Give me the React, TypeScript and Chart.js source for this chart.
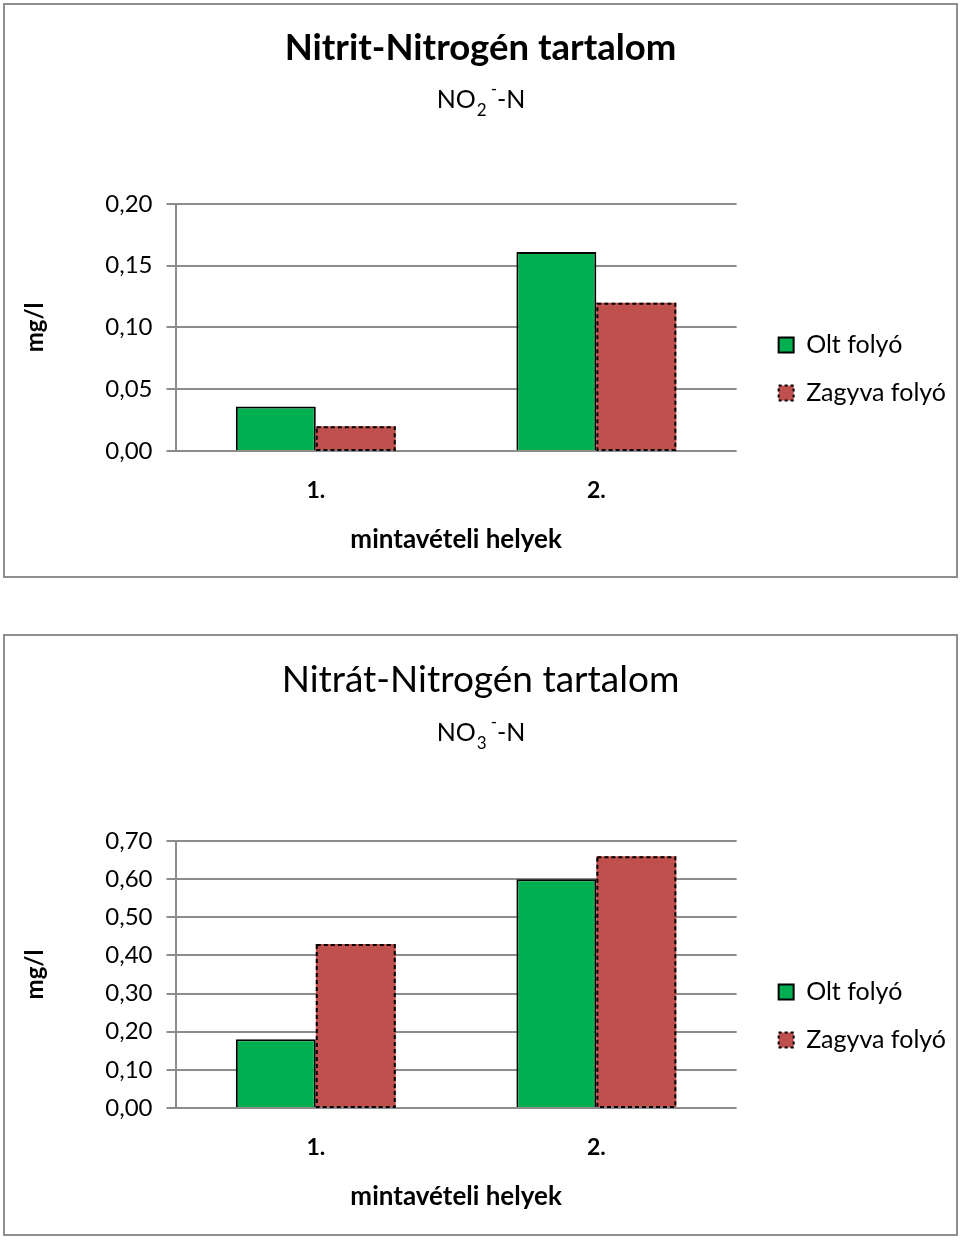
import React, { useEffect, useRef } from 'react';
import { Chart, registerables } from 'chart.js';

Chart.register(...registerables);

// ---------- data ----------
const categories = ['1.', '2.'];
const seriesNames = ['Olt folyó', 'Zagyva folyó'];

const nitritOlt = [0.036, 0.161];
const nitritZagyva = [0.02, 0.12];
const nitritTicks = ['0,00', '0,05', '0,10', '0,15', '0,20'];

const nitratOlt = [0.18, 0.6];
const nitratZagyva = [0.43, 0.66];
const nitratTicks = ['0,00', '0,10', '0,20', '0,30', '0,40', '0,50', '0,60', '0,70'];

const nitritTitle = 'Nitrit-Nitrogén tartalom';
const nitratTitle = 'Nitrát-Nitrogén tartalom';
const nitritFormula = ['NO', '2', '-', '-N'];
const nitratFormula = ['NO', '3', '-', '-N'];
const yTitle = 'mg/l';
const xTitle = 'mintavételi helyek';

// ---------- style ----------
const FONT = 'Lato';
const GREEN = '#00B050';
const RED = '#C0504D';
const GRID = '#8c8c8c';

const dashedBorderPlugin = {
  id: 'dashedBorder',
  afterDatasetsDraw(chart: any) {
    const ctx = chart.ctx;
    chart.data.datasets.forEach((ds: any, i: number) => {
      if (!ds.dashedBorder) return;
      const meta = chart.getDatasetMeta(i);
      meta.data.forEach((bar: any) => {
        const { x, y, base, width } = bar.getProps(['x', 'y', 'base', 'width'], true);
        const left = x - width / 2;
        ctx.save();
        ctx.strokeStyle = '#000';
        ctx.lineWidth = 2;
        ctx.setLineDash([4, 3]);
        ctx.strokeRect(left + 1, y + 1, width - 2, base - y - 1);
        ctx.restore();
      });
    });
  },
};

const formulaPlugin = {
  id: 'formula',
  afterDraw(chart: any, _args: any, opts: any) {
    if (!opts || !opts.parts) return;
    const ctx = chart.ctx;
    const [base, sub, sup, tail] = opts.parts;
    const big = `${opts.size}px ${FONT}`;
    const small = `${opts.smallSize}px ${FONT}`;
    ctx.save();
    ctx.fillStyle = '#000';
    ctx.textAlign = 'left';
    ctx.textBaseline = 'alphabetic';
    ctx.font = big;
    const w1 = ctx.measureText(base).width;
    const w4 = ctx.measureText(tail).width;
    ctx.font = small;
    const w2 = ctx.measureText(sub).width;
    const w3 = ctx.measureText(sup).width;
    const gap = 4;
    const total = w1 + w2 + gap + w3 + w4;
    let x = chart.width / 2 - total / 2;
    const y = opts.baseline;
    ctx.font = big;
    ctx.fillText(base, x, y);
    x += w1 + 1;
    ctx.font = small;
    ctx.fillText(sub, x, y + opts.subShift);
    x += w2 + gap;
    ctx.fillText(sup, x, y - opts.supShift);
    x += w3;
    ctx.font = big;
    ctx.fillText(tail, x, y);
    ctx.restore();
  },
};

function makeConfig(p: any) {
  const tickLabels: string[] = p.ticks;
  return {
    type: 'bar',
    data: {
      labels: categories,
      datasets: [
        {
          label: seriesNames[0],
          data: p.olt,
          backgroundColor: GREEN,
          borderColor: '#000',
          borderWidth: 2,
          categoryPercentage: 0.57,
          barPercentage: 1,
        },
        {
          label: seriesNames[1],
          data: p.zagyva,
          backgroundColor: RED,
          borderColor: '#000',
          borderWidth: 0,
          dashedBorder: true,
          categoryPercentage: 0.57,
          barPercentage: 1,
        },
      ],
    },
    options: {
      responsive: false,
      animation: false,
      layout: { padding: { left: 0, right: 0, top: 0, bottom: p.padBottom } },
      plugins: {
        tooltip: { enabled: false },
        title: {
          display: true,
          text: p.title,
          color: '#000',
          font: { family: FONT, size: p.titleSize, weight: p.titleWeight },
          padding: { top: p.titleTop, bottom: p.titleBottom },
        },
        legend: {
          position: 'right',
          fullSize: false,
          maxWidth: 400,
          title: { display: true, text: '', font: { size: 10 }, padding: { top: 0, bottom: 71 } },
          labels: {
            color: '#000',
            font: { family: FONT, size: 25 },
            boxWidth: 15,
            boxHeight: 15,
            padding: 23,
            generateLabels: (chart: any) => {
              const items = Chart.defaults.plugins.legend.labels.generateLabels(chart);
              items.forEach((it: any, i: number) => {
                it.strokeStyle = '#000';
                it.lineWidth = 2;
                it.lineDash = i === 1 ? [3, 3] : [];
              });
              return items;
            },
          },
        },
        formula: {
          parts: p.formula,
          size: 25,
          smallSize: 17,
          baseline: p.formulaBaseline,
          subShift: 8,
          supShift: 13,
        },
      },
      scales: {
        x: {
          grid: { display: false, drawTicks: false },
          border: { display: false },
          ticks: { color: '#000', font: { family: FONT, size: 23, weight: 'bold' }, padding: 26 },
          title: {
            display: true,
            text: xTitle,
            color: '#000',
            font: { family: FONT, size: 26, weight: 'bold' },
            padding: { top: -6.8, bottom: 0 },
          },
        },
        y: {
          min: 0,
          max: p.max,
          ticks: {
            stepSize: p.step,
            color: '#000',
            font: { family: FONT, size: 24 },
            padding: 14,
            callback: (_v: any, i: number) => tickLabels[i],
          },
          grid: { color: GRID, lineWidth: 2, tickLength: 9, drawTicks: true },
          border: { color: GRID, width: 2 },
          title: {
            display: true,
            text: yTitle,
            color: '#000',
            font: { family: FONT, size: 24, weight: 'bold' },
            padding: { top: 15.5, bottom: 42 },
          },
        },
        spacer: {
          type: 'linear',
          position: 'right',
          display: false,
          afterFit: (s: any) => {
            s.width = 19;
          },
        },
      },
    },
    plugins: [dashedBorderPlugin, formulaPlugin],
  };
}

function BarChart({ params, w, h }: { params: any; w: number; h: number }) {
  const ref = useRef<HTMLCanvasElement>(null);
  useEffect(() => {
    const chart = new Chart(ref.current as HTMLCanvasElement, makeConfig(params) as any);
    return () => chart.destroy();
  }, []);
  return <canvas ref={ref} width={w} height={h} style={{ display: 'block' }} />;
}

const box = (top: number, height: number): React.CSSProperties => ({
  position: 'absolute',
  left: 3,
  top,
  width: 955,
  height,
  border: '2px solid #8e8e8e',
  boxSizing: 'border-box',
  background: '#fff',
});

export default function App() {
  const nitrit = {
    olt: nitritOlt,
    zagyva: nitritZagyva,
    ticks: nitritTicks,
    max: 0.2,
    step: 0.05,
    title: nitritTitle,
    titleSize: 36.5,
    titleWeight: 'bold',
    titleTop: 21,
    titleBottom: 134,
    formula: nitritFormula,
    formulaBaseline: 103,
    padBottom: 21,
  };
  const nitrat = {
    olt: nitratOlt,
    zagyva: nitratZagyva,
    ticks: nitratTicks,
    max: 0.7,
    step: 0.1,
    title: nitratTitle,
    titleSize: 37,
    titleWeight: 'normal',
    titleTop: 22,
    titleBottom: 138.6,
    formula: nitratFormula,
    formulaBaseline: 105,
    padBottom: 22,
  };
  return (
    <div>
      <div style={box(3, 575)}>
        <BarChart params={nitrit} w={951} h={571} />
      </div>
      <div style={box(634, 602)}>
        <BarChart params={nitrat} w={951} h={598} />
      </div>
    </div>
  );
}
